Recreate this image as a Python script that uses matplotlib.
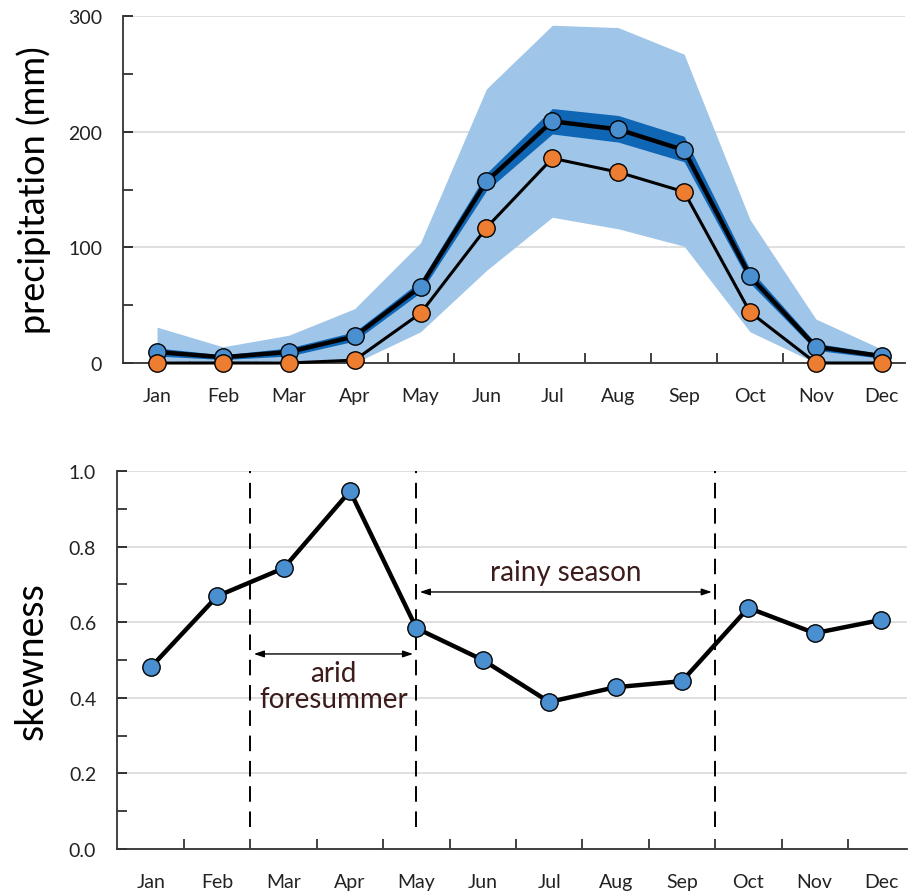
import matplotlib.pyplot as plt
import numpy as np

plt.rcParams["font.family"] = ["Lato", "DejaVu Sans"]

months = ["Jan", "Feb", "Mar", "Apr", "May", "Jun",
          "Jul", "Aug", "Sep", "Oct", "Nov", "Dec"]

# top panel: precipitation (mm)
precip_mean = [9.5, 5, 9.5, 23, 66, 157, 209, 202, 184, 75, 14, 6]
precip_median = [0, 0, 0, 2.5, 43, 117, 177, 165, 148, 44, 0, 0]
range_low = [2, 1, 2, 0, 27, 80, 126, 116, 101, 27, 0, 0]
range_high = [31, 14, 24, 47, 104, 237, 292, 290, 267, 124, 38, 12]
ci_low = [6, 3, 6, 19, 61, 149, 198, 191, 174, 69, 11, 4]
ci_high = [13, 7, 13, 27, 71, 164, 220, 214, 196, 81, 17, 8]

# bottom panel: skewness
skewness = [0.481, 0.669, 0.743, 0.947, 0.584, 0.500,
            0.389, 0.428, 0.444, 0.638, 0.571, 0.606]

light_blue = "#9fc5e8"
dark_blue = "#0f66b5"
marker_blue = "#4a8fd0"
marker_orange = "#ed7d31"
text_dark = "#3c1b1b"
grid_col = "#d9d9d9"

x = np.arange(len(months))

fig = plt.figure(figsize=(9.08, 8.95), dpi=100)
ax1 = fig.add_axes([0.1355, 0.5933, 0.861, 0.3877])
ax2 = fig.add_axes([0.1289, 0.0503, 0.870, 0.4223])


def style_axis(ax):
    ax.spines["top"].set_visible(False)
    ax.spines["right"].set_visible(False)
    ax.spines["left"].set_color("#333333")
    ax.spines["bottom"].set_color("#333333")
    ax.spines["left"].set_linewidth(1.3)
    ax.spines["bottom"].set_linewidth(1.3)
    ax.set_xticks(x)
    ax.set_xticklabels(months)
    ax.set_xticks(x[:-1] + 0.5, minor=True)
    ax.tick_params(axis="x", which="major", length=0, labelsize=14,
                   pad=17, colors="#222222")
    ax.tick_params(axis="x", which="minor", direction="in", length=7,
                   width=1.3, color="#333333")
    ax.tick_params(axis="y", which="both", direction="in", width=1.3,
                   color="#333333")
    ax.tick_params(axis="y", which="major", length=7, labelsize=14,
                   pad=15, colors="#222222")
    ax.tick_params(axis="y", which="minor", length=7)
    ax.grid(axis="y", which="major", color=grid_col, linewidth=1.2)
    ax.set_axisbelow(True)


# top panel
ax1.fill_between(x, range_low, range_high, color=light_blue, lw=0)
ax1.fill_between(x, ci_low, ci_high, color=dark_blue, lw=0)
ax1.plot(x, precip_median, color="black", lw=2.2, marker="o", ms=12.5,
         mfc=marker_orange, mec="black", mew=1, zorder=4, clip_on=False)
ax1.plot(x, precip_mean, color="black", lw=3.2, marker="o", ms=12.5,
         mfc=marker_blue, mec="black", mew=1, zorder=3, clip_on=False)
ax1.set_xlim(-0.516, 11.35)
ax1.set_ylim(0, 300)
ax1.set_yticks([0, 100, 200, 300])
ax1.set_yticks([50, 150, 250], minor=True)
style_axis(ax1)
ax1.set_ylabel("precipitation (mm)", fontsize=26, labelpad=12)

# bottom panel
ax2.plot(x, skewness, color="black", lw=3.2, marker="o", ms=12.5,
         mfc=marker_blue, mec="black", mew=1, zorder=3)
ax2.set_xlim(-0.51, 11.39)
ax2.set_ylim(0, 1.0)
ax2.set_yticks(np.arange(0, 1.01, 0.2))
ax2.set_yticklabels([f"{v:.1f}" for v in np.arange(0, 1.01, 0.2)])
ax2.set_yticks(np.arange(0.1, 1.0, 0.2), minor=True)
style_axis(ax2)
ax2.set_ylabel("skewness", fontsize=27, labelpad=14)

# season boundaries
for xb in [1.5, 4, 8.5]:
    ax2.plot([xb, xb], [0.058, 1.0], color="black", lw=1.4,
             dashes=(8, 5), zorder=2)

ax2.annotate("", xy=(1.55, 0.516), xytext=(3.95, 0.516),
             arrowprops=dict(arrowstyle="<|-|>,head_length=0.6,head_width=0.2",
                             color="black", lw=1, shrinkA=0, shrinkB=0))
ax2.text(2.75, 0.43, "arid\nforesummer", ha="center", va="center",
         fontsize=20, color=text_dark, linespacing=1.0)

ax2.annotate("", xy=(4.05, 0.68), xytext=(8.45, 0.68),
             arrowprops=dict(arrowstyle="<|-|>,head_length=0.6,head_width=0.2",
                             color="black", lw=1, shrinkA=0, shrinkB=0))
ax2.text(6.25, 0.733, "rainy season", ha="center", va="center",
         fontsize=20, color=text_dark)

fig.savefig("out.png", dpi=100)
